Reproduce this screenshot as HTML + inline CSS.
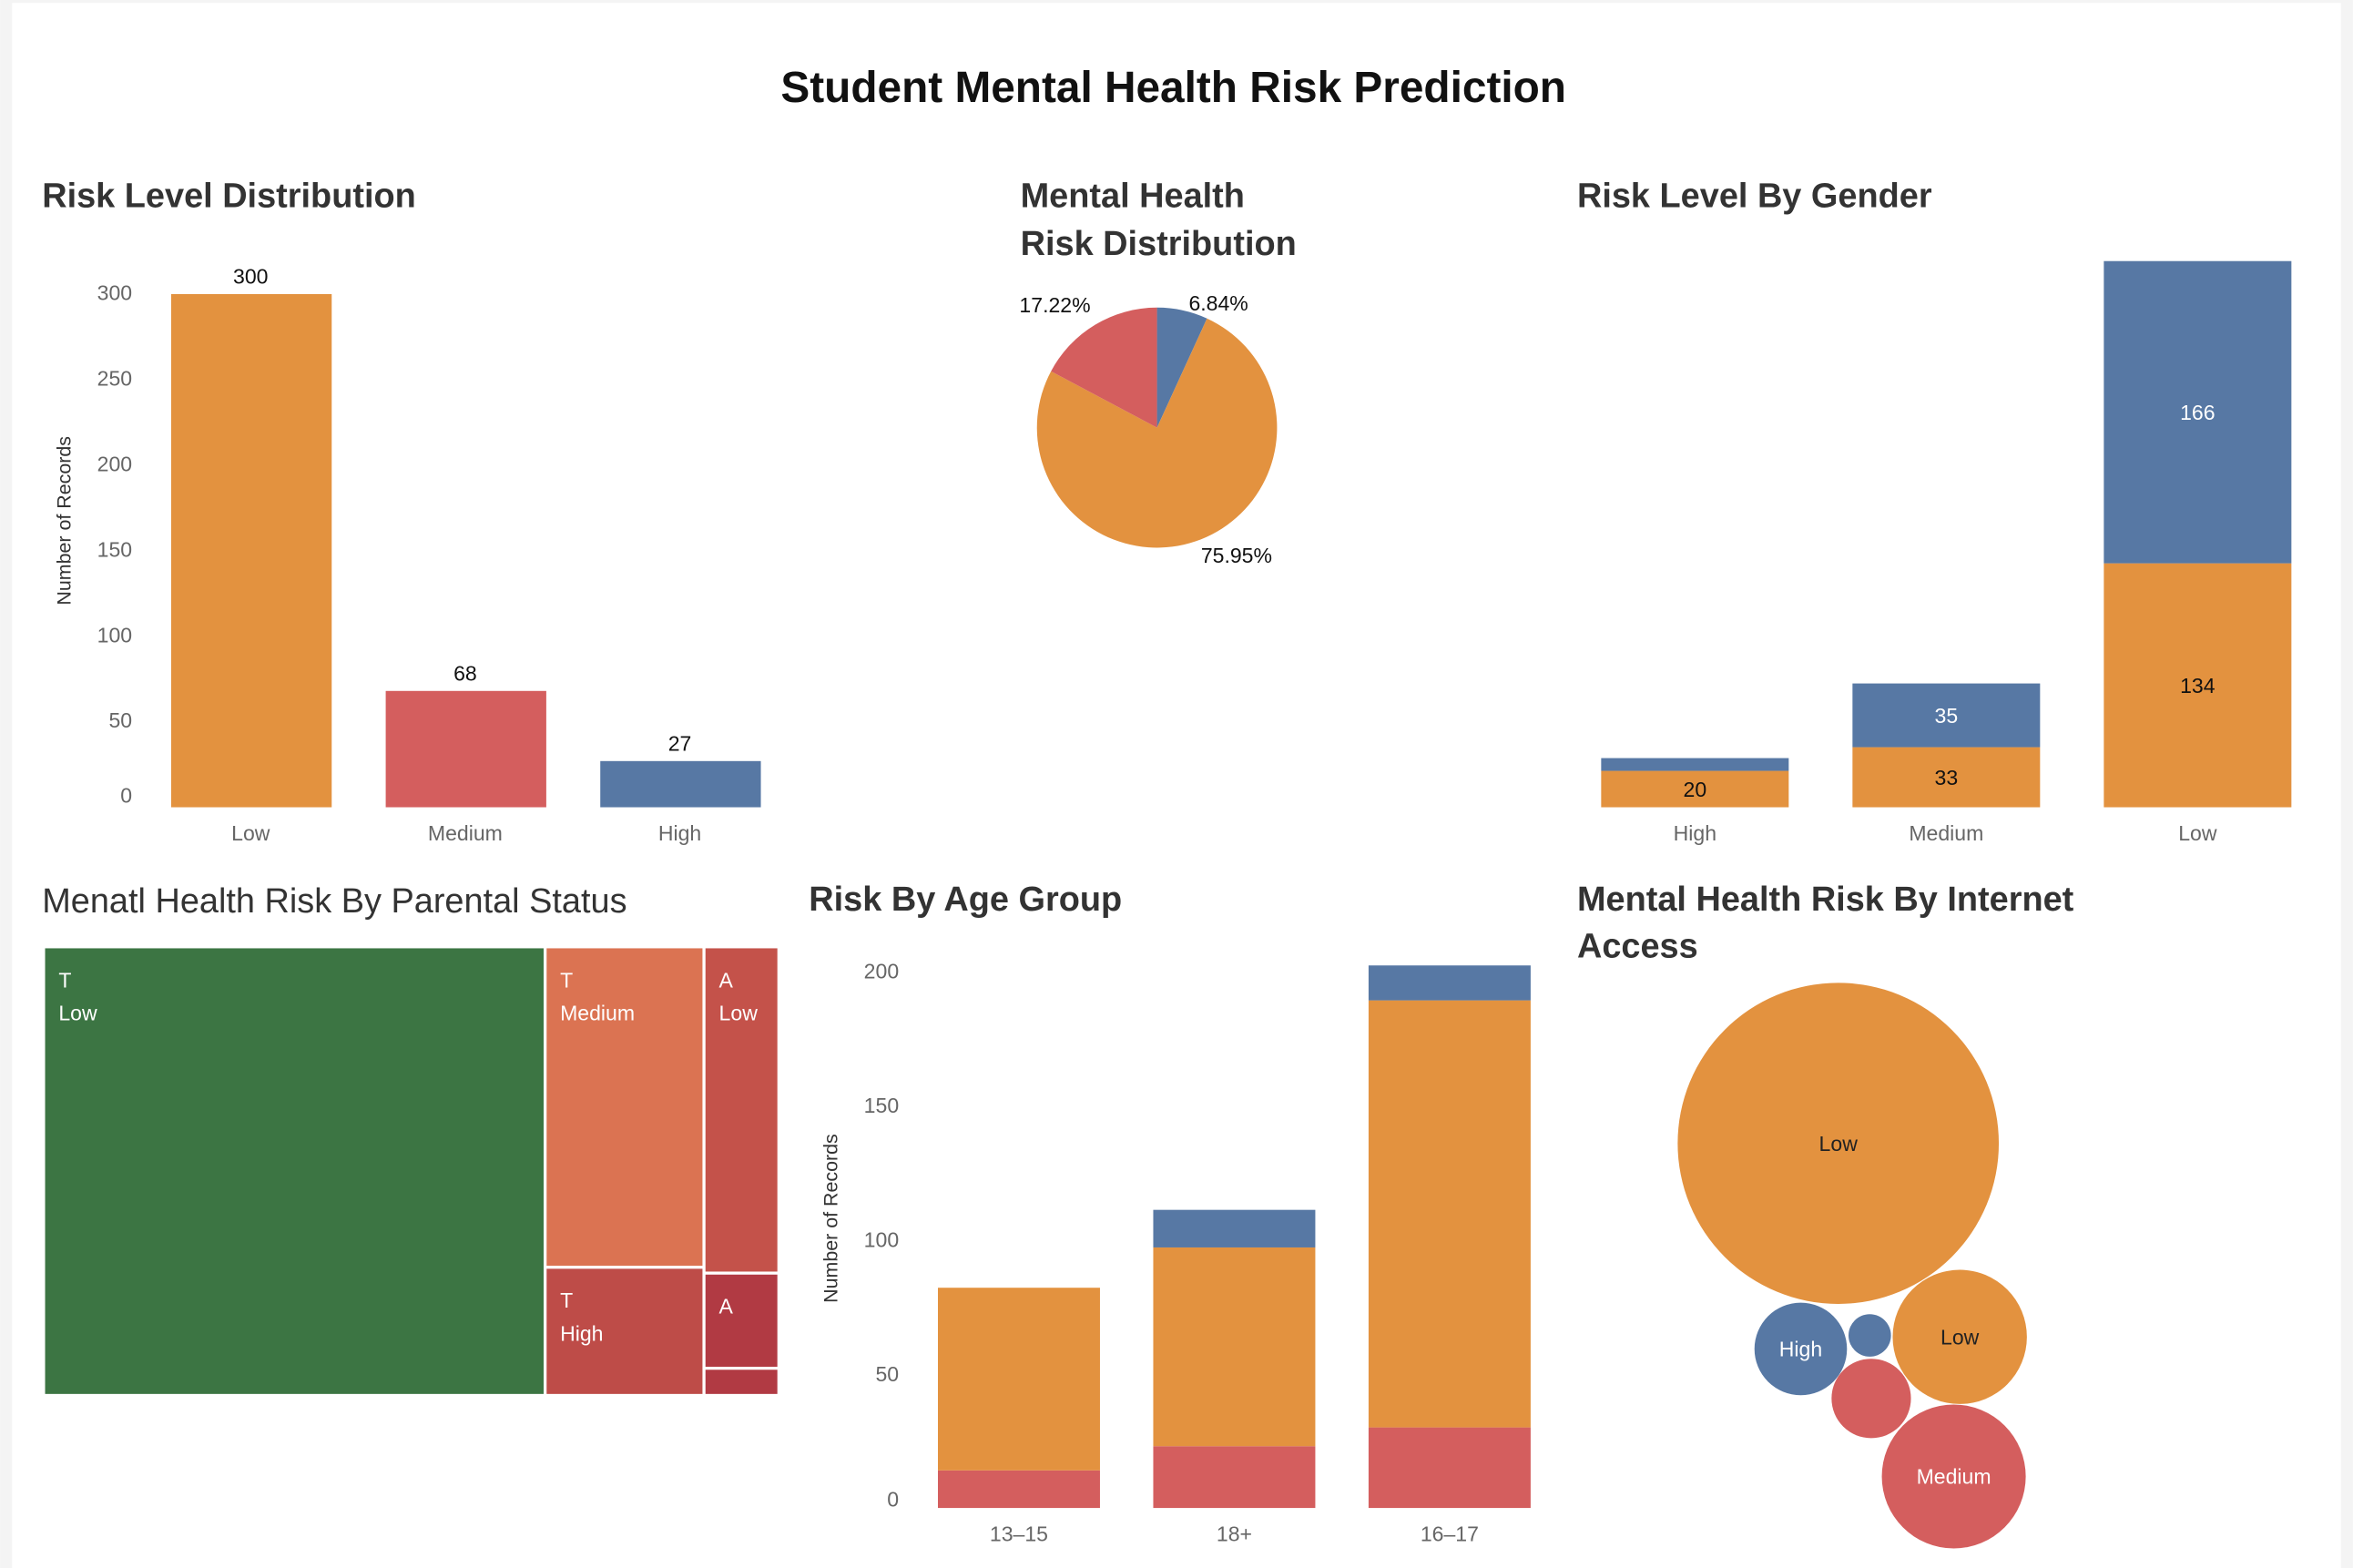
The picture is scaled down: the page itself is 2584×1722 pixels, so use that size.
<!DOCTYPE html>
<html><head><meta charset="utf-8"><style>
html,body{margin:0;padding:0;background:#fff;}
svg{display:block;font-family:"Liberation Sans","DejaVu Sans",sans-serif;}
</style></head><body>
<svg id="chart" width="2584" height="1722" viewBox="0 0 1568 1045" xmlns="http://www.w3.org/2000/svg">
<rect x="0" y="0" width="1568" height="1045" fill="#f4f4f4"/>
<rect x="8" y="2" width="1552" height="1043" fill="#fff"/>
<text x="782" y="68" text-anchor="middle" font-size="29" font-weight="bold" fill="#111">Student Mental Health Risk Prediction</text>
<text x="28" y="138" font-size="23" font-weight="bold" fill="#333">Risk Level Distribution</text>
<text x="680" y="138" font-size="23" font-weight="bold" fill="#333">Mental Health</text>
<text x="680" y="170" font-size="23" font-weight="bold" fill="#333">Risk Distribution</text>
<text x="1051" y="138" font-size="23" font-weight="bold" fill="#333">Risk Level By Gender</text>
<text x="28" y="608" font-size="23" fill="#333">Menatl Health Risk By Parental Status</text>
<text x="539" y="607" font-size="23" font-weight="bold" fill="#333">Risk By Age Group</text>
<text x="1051" y="607" font-size="23" font-weight="bold" fill="#333">Mental Health Risk By Internet</text>
<text x="1051" y="638" font-size="23" font-weight="bold" fill="#333">Access</text>
<g id="g1"></g><g id="g2"></g><g id="g3"></g><g id="g4"></g><g id="g5"></g><g id="g6"></g>
</svg>
<script>
const NS="http://www.w3.org/2000/svg";
const C={o:"#E3923F",r:"#D45E5E",b:"#5778A4"};
// Chart 1
const distCats=["Low","Medium","High"];
const distVals=[300,68,27];
const distTicks=[0,50,100,150,200,250,300];
// Chart 2
const pieLabels=["High","Low","Medium"];
const pieVals=[6.84,75.95,17.22];
// Chart 3
const genCats=["High","Medium","Low"];
const genOrange=[20,33,134];
const genBlue=[7,35,166];
// Chart 5
const ageCats=["13–15","18+","16–17"];
const ageRed=[14,23,30];
const ageOrange=[68,74,159];
const ageBlue=[0,14,13];
const ageTicks=[0,50,100,150,200];
// Chart 4 treemap
const tmLabels=["T\nLow","T\nMedium","T\nHigh","A\nLow","A\n",""];
const tmVals=[221,50,20,24,7,2];
// Chart 6 bubbles
const bubLabels=["Low","High","","Low","","Medium"];
const bubVals=[229,19,4,40,14,46];

function el(p,t,a,txt){const e=document.createElementNS(NS,t);for(const k in a)e.setAttribute(k,a[k]);if(txt!==undefined)e.textContent=txt;p.appendChild(e);return e;}

// chart 1
(function(){const g=document.getElementById('g1');const base=538,k=342/300;const y=v=>base-v*k;
distTicks.forEach(t=>{const e=el(g,'text',{x:88,y:y(t)+4-(t===0?7:0),'text-anchor':'end','font-size':14,fill:'#666'},t);});
const ax=el(g,'text',{transform:'translate(47,347) rotate(-90)','text-anchor':'middle','font-size':13,fill:'#333'},'Number of Records');
const cols=[C.o,C.r,C.b];
distCats.forEach((c,i)=>{const x=114+i*143;const r=el(g,'rect',{x:x,y:y(distVals[i]),width:107,height:distVals[i]*k,fill:cols[i]});
const v=el(g,'text',{x:x+53,y:y(distVals[i])-7,'text-anchor':'middle','font-size':14,fill:'#111'},distVals[i]);
const l=el(g,'text',{x:x+53,y:560,'text-anchor':'middle','font-size':14,fill:'#666'},c);});})();

// chart 2
(function(){const g=document.getElementById('g2');const cx=771,cy=285,R=80;const tot=pieVals.reduce((a,b)=>a+b,0);const cols=[C.b,C.o,C.r];let a0=0;
const lp=[[812,207],[824,375],[703,208]];
pieVals.forEach((v,i)=>{const a1=a0+v/tot*2*Math.PI;const p=(a)=>[cx+R*Math.sin(a),cy-R*Math.cos(a)];const s=p(a0),e=p(a1);
const path=el(g,'path',{d:`M${cx},${cy}L${s[0]},${s[1]}A${R},${R} 0 ${a1-a0>Math.PI?1:0} 1 ${e[0]},${e[1]}Z`,fill:cols[i]});
const t=el(g,'text',{x:lp[i][0],y:lp[i][1],'text-anchor':'middle','font-size':14,fill:'#111'},v.toFixed(2)+'%');a0=a1;});})();

// chart 3
(function(){const g=document.getElementById('g3');const base=538,k=364/300;
genCats.forEach((c,i)=>{const x=1067+i*167.5,w=125;const ho=genOrange[i]*k,hb=genBlue[i]*k;
const r1=el(g,'rect',{x:x,y:base-ho,width:w,height:ho,fill:C.o});
const r2=el(g,'rect',{x:x,y:base-ho-hb,width:w,height:hb,fill:C.b});
const t1=el(g,'text',{x:x+w/2,y:Math.min(base-ho/2+5,base-6),'text-anchor':'middle','font-size':14,fill:'#111'},genOrange[i]);
if(hb>20){const t2=el(g,'text',{x:x+w/2,y:base-ho-hb/2+5,'text-anchor':'middle','font-size':14,fill:'#fff'},genBlue[i]);}
const l=el(g,'text',{x:x+w/2,y:560,'text-anchor':'middle','font-size':14,fill:'#666'},c);});})();

// chart 4 treemap (layout per value)
(function(){const g=document.getElementById('g4');const X=30,Y=632,W=490,H=299;const tot=tmVals.reduce((a,b)=>a+b,0);
const cols=["#3C7543","#DB7352","#BE4C48","#C4524A","#B13A43","#B13A43"];
const groups=[[0],[1,2],[3,4,5]];let x=X;
groups.forEach(gr=>{const gs=gr.reduce((a,i)=>a+tmVals[i],0);const w=gs/tot*W;let y=Y;
gr.forEach(i=>{const h=tmVals[i]/gs*H;const r=el(g,'rect',{x:x,y:y,width:w-2,height:h-2,fill:cols[i]});
const lines=tmLabels[i].split('\n');lines.forEach((ln,j)=>{if(!ln)return;const t=el(g,'text',{x:x+9,y:y+26+j*22,'font-size':14,fill:'#fff'},ln);});y+=h;});x+=w;});})();

// chart 5
(function(){const g=document.getElementById('g5');const base=1005,k=358/200;const y=v=>base-v*k;
ageTicks.forEach(t=>{const e=el(g,'text',{x:599,y:y(t)+5-(t===0?6:0),'text-anchor':'end','font-size':14,fill:'#666'},t);});
const ax=el(g,'text',{transform:'translate(558,812) rotate(-90)','text-anchor':'middle','font-size':13,fill:'#333'},'Number of Records');
ageCats.forEach((c,i)=>{const x=625+i*143.5,w=108;let acc=0;
[[ageRed,C.r,'red'],[ageOrange,C.o,'orange'],[ageBlue,C.b,'blue']].forEach(([arr,col,n])=>{const v=arr[i];if(v>0){const r=el(g,'rect',{x:x,y:y(acc+v),width:w,height:v*k,fill:col});}acc+=v;});
const l=el(g,'text',{x:x+w/2,y:1027,'text-anchor':'middle','font-size':14,fill:'#666'},c);});})();

// chart 6 bubbles
(function(){const g=document.getElementById('g6');const pos=[[1225,762],[1200,899],[1246,890],[1306,891],[1247,932],[1302,984]];
const cols=[C.o,C.b,C.b,C.o,C.r,C.r];const k=107/Math.sqrt(229);
bubVals.forEach((v,i)=>{const c=el(g,'circle',{cx:pos[i][0],cy:pos[i][1],r:Math.sqrt(v)*k,fill:cols[i]});
if(bubLabels[i]){const t=el(g,'text',{x:pos[i][0],y:pos[i][1]+5,'text-anchor':'middle','font-size':14,fill:cols[i]===C.o?'#222':'#fff'},bubLabels[i]);}});})();
</script>
</body></html>
